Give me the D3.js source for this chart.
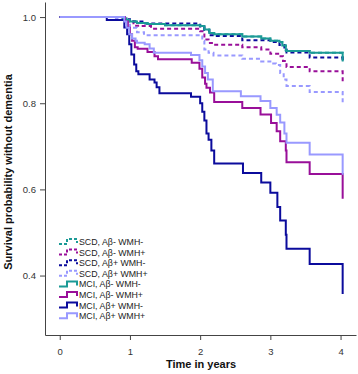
<!DOCTYPE html>
<html>
<head>
<meta charset="utf-8">
<script src="https://cdn.jsdelivr.net/npm/d3@7"></script>
<style>
  body { margin: 0; background: #fff; }
  svg { display: block; font-family: "Liberation Sans", Arial, sans-serif; }
</style>
</head>
<body>
<div id="km-chart"></div>
<script>
// Kaplan-Meier curves: survival without dementia by group
const groupLabels = [
  'SCD, Aβ- WMH-', 'SCD, Aβ- WMH+', 'SCD, Aβ+ WMH-', 'SCD, Aβ+ WMH+',
  'MCI, Aβ- WMH-', 'MCI, Aβ- WMH+', 'MCI, Aβ+ WMH-', 'MCI, Aβ+ WMH+'
];
const groupColors = ['#1b9a96', '#990f99', '#0b0b9c', '#9999ff', '#1b9a96', '#990f99', '#0b0b9c', '#9999ff'];
const groupDashed = [true, true, true, true, false, false, false, false];
const xTicks = [0, 1, 2, 3, 4];
const yTicks = [0.4, 0.6, 0.8, 1.0];

// [time, survival] pairs
const scdNegNeg = [[0, 1], [0.9, 0.997], [0.95, 0.993], [1.0, 0.99], [1.1, 0.986], [1.25, 0.984], [1.5, 0.981],
  [2.0, 0.979], [2.06, 0.971], [2.13, 0.963], [2.2, 0.96], [2.6, 0.955], [2.87, 0.95], [3.0, 0.945],
  [3.13, 0.942], [3.17, 0.934], [3.22, 0.923], [3.23, 0.921], [3.56, 0.917], [4.03, 0.898]];
const scdNegPos = [[0, 1], [0.85, 0.997], [0.95, 0.99], [1.05, 0.98], [1.15, 0.979], [1.3, 0.973], [2.0, 0.967],
  [2.06, 0.948], [2.12, 0.94], [2.19, 0.936], [2.6, 0.93], [2.87, 0.925], [3.0, 0.915], [3.13, 0.909],
  [3.18, 0.898], [3.23, 0.884], [3.56, 0.874], [4.03, 0.849]];
const scdPosNeg = [[0, 1], [0.9, 0.995], [1.0, 0.99], [1.2, 0.985], [2.0, 0.978], [2.06, 0.97], [2.13, 0.958],
  [2.2, 0.956], [2.6, 0.946], [3.0, 0.942], [3.13, 0.935], [3.2, 0.925], [3.23, 0.918], [3.56, 0.906], [4.03, 0.894]];
const scdPosPos = [[0, 1], [0.8, 0.997], [0.9, 0.99], [1.0, 0.975], [1.1, 0.965], [1.2, 0.958], [2.0, 0.955],
  [2.03, 0.945], [2.06, 0.925], [2.12, 0.917], [2.19, 0.911], [2.6, 0.903], [2.87, 0.897], [3.0, 0.892],
  [3.08, 0.889], [3.14, 0.87], [3.19, 0.855], [3.23, 0.84], [3.56, 0.826], [4.03, 0.801]];
const mciNegNeg = [[0, 1], [0.9, 0.997], [0.95, 0.993], [1.0, 0.99], [1.1, 0.986], [1.25, 0.984], [1.5, 0.981],
  [2.0, 0.979], [2.06, 0.971], [2.13, 0.963], [2.2, 0.96], [2.6, 0.955], [2.87, 0.95], [3.0, 0.945],
  [3.13, 0.942], [3.17, 0.934], [3.22, 0.923], [3.23, 0.921], [3.56, 0.917], [4.03, 0.897]];
const mciNegPos = [[0, 1], [0.93, 0.99], [0.97, 0.975], [1.0, 0.96], [1.03, 0.945], [1.07, 0.93], [1.11, 0.9265],
  [1.25, 0.919], [1.35, 0.909], [1.4, 0.902], [1.88, 0.894], [1.99, 0.88], [2.03, 0.86], [2.07, 0.845],
  [2.09, 0.836], [2.14, 0.825], [2.2, 0.803], [2.6, 0.789], [2.86, 0.774], [3.01, 0.754], [3.09, 0.735],
  [3.14, 0.712], [3.22, 0.69], [3.23, 0.663], [3.56, 0.636], [4.03, 0.578]];
const mciPosNeg = [[0, 1], [0.67, 0.993], [0.92, 0.976], [0.96, 0.96], [0.99, 0.937], [1.02, 0.913], [1.06, 0.89],
  [1.09, 0.874], [1.12, 0.867], [1.28, 0.855], [1.35, 0.848], [1.38, 0.837], [1.42, 0.823], [1.87, 0.815],
  [2.0, 0.8], [2.03, 0.78], [2.06, 0.76], [2.09, 0.73], [2.12, 0.715], [2.16, 0.69], [2.2, 0.66], [2.61, 0.638],
  [2.87, 0.616], [3.0, 0.592], [3.1, 0.559], [3.14, 0.528], [3.22, 0.495], [3.23, 0.462], [3.56, 0.427], [4.03, 0.357]];
const mciPosPos = [[0, 1], [0.92, 0.99], [0.95, 0.975], [0.99, 0.96], [1.03, 0.95], [1.08, 0.945], [1.1, 0.9405],
  [1.21, 0.937], [1.28, 0.927], [1.34, 0.917], [1.87, 0.912], [1.99, 0.9], [2.03, 0.885], [2.07, 0.87],
  [2.11, 0.855], [2.18, 0.828], [2.58, 0.816], [2.86, 0.805], [3.0, 0.789], [3.09, 0.773], [3.14, 0.755],
  [3.2, 0.73], [3.23, 0.708], [3.56, 0.681], [4.03, 0.634]];
const groupData = [scdNegNeg, scdNegPos, scdPosNeg, scdPosPos, mciNegNeg, mciNegPos, mciPosNeg, mciPosPos];

const W = 358, H = 374;
const svg = d3.select('#km-chart').append('svg')
  .attr('width', W)
  .attr('height', H);

// plot region in R style: axes run a bit past the data
const x = d3.scaleLinear().domain([-0.21, 4.22]).range([45, 356]);
const y = d3.scaleLinear().domain([0.262, 1.035]).range([335, 2]);

// Axes
const xAxis = svg.append('g')
  .attr('transform', 'translate(0,335)')
  .call(d3.axisBottom(x).tickValues(xTicks).tickSize(5).tickSizeOuter(0).tickFormat(d3.format('d')));
const yAxis = svg.append('g')
  .attr('transform', 'translate(45,0)')
  .call(d3.axisLeft(y).tickValues(yTicks).tickSize(5).tickSizeOuter(0).tickFormat(d3.format('.1f')));

[xAxis, yAxis].forEach(g => {
  g.select('.domain').attr('stroke', '#444').attr('stroke-width', 1);
  g.selectAll('.tick line').attr('stroke', '#444');
  g.selectAll('.tick text')
    .attr('fill', '#333')
    .style('font-size', '9.5px')
    .style('font-family', '"Liberation Sans", Arial, sans-serif');
});
xAxis.selectAll('.tick text').attr('dy', '1.25em');
yAxis.selectAll('.tick text').attr('x', -9);

// Axis titles
svg.append('text')
  .attr('x', 201)
  .attr('y', 368)
  .attr('text-anchor', 'middle')
  .attr('font-size', '11px')
  .attr('font-weight', '700')
  .attr('fill', '#111')
  .text('Time in years');

svg.append('text')
  .attr('transform', 'translate(12,172) rotate(-90)')
  .attr('text-anchor', 'middle')
  .attr('font-size', '11px')
  .attr('font-weight', '700')
  .attr('fill', '#111')
  .text('Survival probability without dementia');

// Curves
const line = d3.line()
  .x(d => x(d[0]))
  .y(d => y(d[1]))
  .curve(d3.curveStepAfter);

groupData.forEach((data, i) => {
  svg.append('path')
    .datum(data)
    .attr('fill', 'none')
    .attr('stroke', groupColors[i])
    .attr('stroke-width', 2)
    .attr('stroke-dasharray', groupDashed[i] ? '4,3' : null)
    .attr('d', line);
});

// Legend
const legend = svg.append('g').attr('transform', 'translate(59,242)');
groupLabels.forEach((label, i) => {
  const cy = i * 10.6;
  legend.append('path')
    .attr('d', `M0,${cy + 2}H8V${cy - 3}H18V${cy + 1}`)
    .attr('fill', 'none')
    .attr('stroke', groupColors[i])
    .attr('stroke-width', 2)
    .attr('stroke-dasharray', groupDashed[i] ? '3,2' : null);
  legend.append('text')
    .attr('x', 20)
    .attr('y', cy)
    .attr('dy', '0.35em')
    .attr('font-size', '8.8px')
    .attr('fill', '#222')
    .text(label);
});
</script>
</body>
</html>
